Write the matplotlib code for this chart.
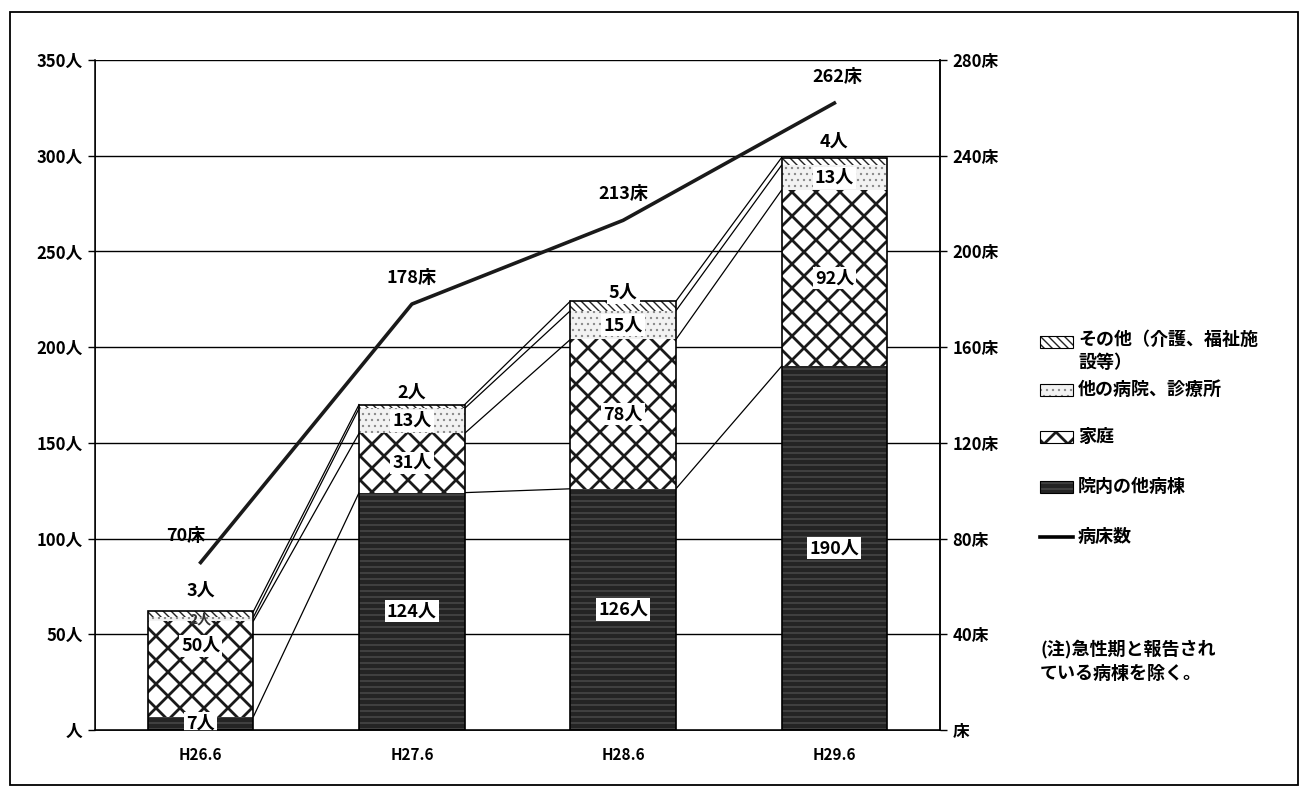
import matplotlib
matplotlib.use("Agg")
import numpy as np
import matplotlib.pyplot as plt
from matplotlib.patches import Rectangle
from matplotlib.lines import Line2D

plt.rcParams['font.family'] = ['Noto Sans CJK JP', 'DejaVu Sans']

# ---- data ----
categories = ['H26.6', 'H27.6', 'H28.6', 'H29.6']
in_hospital = [7, 124, 126, 190]      # 院内の他病棟
home = [50, 31, 78, 92]               # 家庭
other_clinic = [2, 13, 15, 13]        # 他の病院、診療所
other = [3, 2, 5, 4]                  # その他（介護、福祉施設等）
beds = [70, 178, 213, 262]            # 病床数

left_ticks = [0, 50, 100, 150, 200, 250, 300, 350]
left_tick_labels = ['人', '50人', '100人', '150人', '200人', '250人', '300人', '350人']
right_ticks = [0, 40, 80, 120, 160, 200, 240, 280]
right_tick_labels = ['床', '40床', '80床', '120床', '160床', '200床', '240床', '280床']

series_names = ['院内の他病棟', '家庭', '他の病院、診療所', 'その他（介護、福祉施\n設等）']
series_values = [in_hospital, home, other_clinic, other]

# figure is rendered at 72 dpi so hatch cells come out small; P converts
# sizes written for a 100 dpi canvas into points at this resolution
DPI = 72
P = 100 / DPI

# fill / hatch styling per series
styles = [
    dict(facecolor='#242424', hatch='--', hatchcolor='#585858', hlw=0.8),
    dict(facecolor='white', hatch='x', hatchcolor='#1a1a1a', hlw=2.0),
    dict(facecolor='#f2f2f2', hatch='..', hatchcolor='#8a8a8a', hlw=0.8),
    dict(facecolor='white', hatch='\\\\\\', hatchcolor='#222222', hlw=1.0),
]

W, H = 1303, 791
fig = plt.figure(figsize=(W / DPI, H / DPI), dpi=DPI)
fig.patch.set_facecolor('white')

ax = fig.add_axes([95 / W, 1 - 730 / H, (940 - 95) / W, (730 - 60) / H])
ax.set_xlim(-0.5, 3.5)
ax.set_ylim(0, 350)

x = np.arange(len(categories))
bar_w = 0.5


def make_bar(xs, heights, bottoms, st):
    with plt.rc_context({'hatch.linewidth': st['hlw'] * P, 'hatch.color': st['hatchcolor']}):
        bars = ax.bar(xs, heights, bar_w, bottom=bottoms, facecolor=st['facecolor'],
                      edgecolor=st['hatchcolor'], hatch=st['hatch'], linewidth=0, zorder=2)
    return bars


bottoms = np.zeros(len(categories))
cum_levels = []
for vals, st in zip(series_values, styles):
    vals = np.array(vals, dtype=float)
    make_bar(x, vals, bottoms, st)
    bottoms = bottoms + vals
    cum_levels.append(bottoms.copy())

# bar outlines
ax.bar(x, bottoms, bar_w, facecolor='none', edgecolor='black', linewidth=1.2 * P, zorder=3)

# series lines joining stack boundaries of neighbouring bars
for lev in cum_levels:
    for i in range(len(categories) - 1):
        ax.plot([x[i] + bar_w / 2, x[i + 1] - bar_w / 2], [lev[i], lev[i + 1]],
                color='black', lw=0.9 * P, zorder=1.5)

# grid and axes
ax.set_yticks(left_ticks)
ax.set_yticklabels(left_tick_labels, fontsize=12 * P, fontweight='bold')
ax.yaxis.grid(True, color='black', lw=1.0 * P)
ax.set_axisbelow(True)
ax.tick_params(axis='y', direction='out', length=5 * P, width=1 * P, pad=4 * P)
ax.set_xticks(x)
ax.set_xticklabels(categories, fontsize=11 * P, fontweight='bold')
ax.tick_params(axis='x', length=0, pad=12 * P)
for s in ax.spines.values():
    s.set_color('black')
    s.set_linewidth(1.1 * P)
ax.spines['top'].set_visible(False)

label_kw = dict(ha='center', va='center', fontsize=13 * P, fontweight='bold', zorder=6)
box = dict(facecolor='white', edgecolor='none', pad=1.5 * P)

# value labels inside the segments
base = np.zeros(len(categories))
nudges = [[0, 0, 0, 0], [12, 0, 0, 0], [0, 0, 0, 0]]
for k in range(3):
    vals = np.array(series_values[k], dtype=float)
    for i in range(len(categories)):
        yc = base[i] + vals[i] / 2 + nudges[k][i]
        if k == 2 and i == 0:
            ax.text(x[i], yc, f'{int(vals[i])}人', ha='center', va='center',
                    fontsize=10 * P, fontweight='bold', zorder=2.5, color='#333333')
        else:
            ax.text(x[i], yc, f'{int(vals[i])}人', bbox=box, **label_kw)
    base = base + vals

# labels for the thin top segment sit just above each bar
top_offsets = [11, 6.5, 4.5, 8.5]
for i in range(len(categories)):
    ax.text(x[i], cum_levels[3][i] + top_offsets[i], f'{other[i]}人', bbox=box, **label_kw)

# bed count line on secondary axis
ax2 = ax.twinx()
ax2.set_ylim(0, 280)
ax2.set_yticks(right_ticks)
ax2.set_yticklabels(right_tick_labels, fontsize=12 * P, fontweight='bold')
ax2.tick_params(axis='y', direction='out', length=5 * P, width=1 * P, pad=4 * P)
ax2.spines['top'].set_visible(False)
ax2.spines['right'].set_linewidth(1.1 * P)
ax2.plot(x, beds, color='#1a1a1a', lw=2.6 * P, zorder=5)
bed_dx = [-11, 0, 0, 2]
for i in range(len(categories)):
    ax2.annotate(f'{beds[i]}床', (x[i], beds[i]), xytext=(bed_dx[i] * P, 19 * P),
                 textcoords='offset points', ha='center', va='center',
                 fontsize=13 * P, fontweight='bold')


# legend, drawn by hand in figure space
def fx(px):
    return px / W


def fy(py):
    return 1 - py / H


legend_rows = [(series_names[3], styles[3], 342),
               (series_names[2], styles[2], 390),
               (series_names[1], styles[1], 437),
               (series_names[0], styles[0], 487)]
for name, st, py in legend_rows:
    with plt.rc_context({'hatch.linewidth': st['hlw'] * P, 'hatch.color': st['hatchcolor']}):
        r = Rectangle((fx(1040), fy(py + 6)), fx(33), 12 / H, transform=fig.transFigure,
                      facecolor=st['facecolor'], edgecolor=st['hatchcolor'], hatch=st['hatch'],
                      lw=0)
    fig.add_artist(r)
    fig.add_artist(Rectangle((fx(1040), fy(py + 6)), fx(33), 12 / H, transform=fig.transFigure,
                             facecolor='none', edgecolor='black', lw=0.8 * P))
    if '\n' in name:
        fig.text(fx(1078), fy(py - 11), name, ha='left', va='top',
                 fontsize=13 * P, fontweight='bold', linespacing=1.35)
    else:
        fig.text(fx(1078), fy(py), name, ha='left', va='center',
                 fontsize=13 * P, fontweight='bold')

fig.add_artist(Line2D([fx(1040), fx(1073)], [fy(537), fy(537)], color='black', lw=2.6 * P,
                      transform=fig.transFigure))
fig.text(fx(1078), fy(537), '病床数', ha='left', va='center', fontsize=13 * P, fontweight='bold')

fig.text(fx(1040), fy(640), '(注)急性期と報告され\nている病棟を除く。', ha='left', va='top',
         fontsize=13 * P, fontweight='bold', linespacing=1.45)

# outer frame
fig.add_artist(Rectangle((fx(10), fy(785)), fx(1288), (785 - 12) / H,
                         transform=fig.transFigure, facecolor='none', edgecolor='black',
                         lw=1.3 * P))

fig.savefig('out.png', dpi=DPI, facecolor='white')
